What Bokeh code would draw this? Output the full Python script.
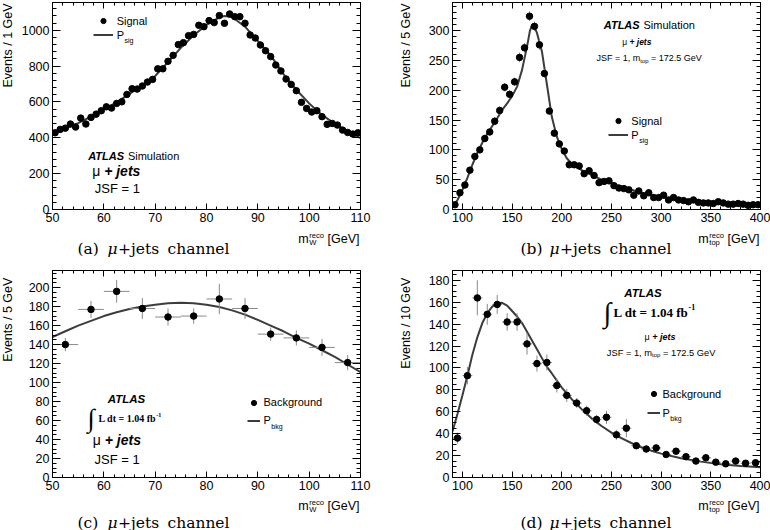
import math
from bokeh.plotting import figure
from bokeh.models import (Range1d, LinearAxis, SingleIntervalTicker, Label,
                          Legend, LegendItem)
from bokeh.core.properties import value
from bokeh.layouts import column, row
from bokeh.embed import file_html
from bokeh.resources import INLINE

SANS = "Liberation Sans"
SERIF = "Liberation Serif"
CAP = "DejaVu Serif"
PT_COLOR = "black"
ERR_COLOR = "#8a8a8a"
CURVE_COLOR = "#3c3c3c"

# ---------------- (a) signal, m_W^reco, 1 GeV bins ----------------
a_edges = (50, 110, 1)
a_counts = [428, 447, 454, 477, 460, 510, 477, 514, 532, 551,
            573, 566, 592, 601, 642, 674, 672, 689, 711, 726,
            785, 785, 827, 860, 920, 931, 970, 977, 1028, 1020,
            1054, 1043, 1082, 1039, 1091, 1076, 1076, 1039, 974, 957,
            918, 886, 853, 806, 773, 728, 698, 663, 598, 564,
            544, 551, 518, 475, 480, 471, 443, 430, 421, 428]
a_curve_x = [50, 52.5, 55, 57.5, 60, 62.5, 65, 67.5, 70, 72.5, 75, 77.5, 80,
             82.5, 83.5, 85, 87.5, 90, 92.5, 95, 97.5, 100, 102.5, 105, 107.5, 110]
a_curve_y = [425, 452, 482, 518, 558, 598, 645, 692, 745, 822, 902, 972, 1030,
             1072, 1080, 1074, 1020, 940, 860, 755, 668, 592, 528, 478, 437, 398]

# ---------------- (b) signal, m_top^reco, 5 GeV bins ----------------
b_edges = (90, 400, 5)
b_counts = [8, 28, 41, 66, 89, 100, 119, 130, 148, 166,
            205, 193, 214, 255, 271, 324, 307, 276, 228, 165,
            128, 110, 98, 75, 75, 73, 60, 65, 57, 45,
            47, 48, 40, 36, 35, 33, 24, 31, 23, 28,
            20, 20, 24, 16, 20, 16, 15, 13, 16, 12,
            11, 11, 10, 13, 11, 9, 9, 10, 9, 7,
            8, 8]
b_errors = [2, 3, 4, 5, 5, 6, 6, 6, 7, 7,
            7, 7, 7, 8, 8, 8, 8, 8, 7, 6,
            6, 5, 5, 4, 4, 4, 4, 4, 4, 3,
            3, 3, 3, 3, 3, 3, 3, 3, 3, 3,
            2, 2, 2, 2, 2, 2, 2, 2, 2, 2,
            2, 2, 2, 2, 2, 2, 2, 2, 2, 2,
            2, 2]
b_curve_x = [90, 95, 100, 105, 110, 115, 120, 125, 130, 135, 140, 145, 150, 155,
             160, 165, 168, 170, 172, 175, 180, 185, 190, 195, 200, 205, 210, 220,
             230, 240, 250, 260, 270, 280, 290, 300, 320, 340, 360, 380, 400]
b_curve_y = [3, 16, 33, 53, 75, 95, 112, 127, 140, 153, 167, 178, 190, 206,
             234, 273, 300, 309, 308, 296, 265, 210, 155, 122, 101, 86, 77, 66,
             58, 50, 44, 38, 33, 28, 24, 21, 16, 12.5, 10, 8, 6.5]

# ---------------- (c) background, m_W^reco, 5 GeV bins ----------------
c_edges = (50, 110, 5)
c_counts = [140, 177, 196, 178, 169, 170, 188, 178, 151, 147, 137, 121]
c_errors = [7, 9, 12, 11, 9, 8, 16, 11, 7, 8, 9, 8]
c_curve_x = [50, 52.5, 55, 57.5, 60, 62.5, 65, 67.5, 70, 72.5, 75, 77.5, 80,
             82.5, 85, 87.5, 90, 92.5, 95, 97.5, 100, 102.5, 105, 107.5, 110]
c_curve_y = [148, 154, 160, 165, 170, 174, 177.5, 180, 182, 183.5, 184, 183.5, 182,
             179.5, 176, 171.5, 166, 160, 154, 147, 141, 134, 127, 119, 111]

# ---------------- (d) background, m_top^reco, 10 GeV bins ----------------
d_edges = (90, 400, 10)
d_counts = [36, 93, 164, 149, 158, 142, 142, 122, 104, 105,
            84, 75, 68, 61, 53, 55, 39, 45, 29, 26,
            27, 21, 24, 19, 15, 18, 14, 12.5, 15, 13,
            13.5]
d_errors = [5, 8, 16, 9.5, 8.6, 8, 8, 9.8, 7.3, 7.3,
            6.4, 6, 4.5, 4.5, 4, 6, 4.5, 8.3, 3, 3,
            3, 2.5, 3, 2.5, 2, 2.5, 2, 2, 2, 2,
            2]
d_curve_x = [90, 95, 100, 105, 110, 115, 120, 125, 130, 135, 140, 145, 150, 155,
             160, 165, 170, 175, 180, 185, 190, 200, 210, 220, 230, 240, 250, 260,
             270, 280, 290, 300, 320, 340, 360, 380, 400]
d_curve_y = [42, 58, 75, 93, 112, 128, 141, 150, 156, 159, 159.5, 157, 152, 147,
             141, 133, 125, 117, 109, 101, 95, 82, 71.5, 62.4, 54, 47, 41, 36,
             31.5, 27.6, 24.5, 21.8, 17.5, 14.5, 12, 10.6, 9.4]

# ---------------- text metrics (Arial / Times metric compatible) ----------------
AR = {' ': 278, '[': 278, ']': 278, 'G': 778, 'e': 556, 'V': 667, 'm': 833, 'W': 944,
      'r': 333, 'c': 500, 'o': 556, 't': 278, 'p': 556, 's': 500, 'i': 222, 'g': 556,
      'k': 500, 'b': 556, 'P': 667, '=': 584, '1': 556, '2': 556, '7': 556, '5': 556,
      '.': 278, ',': 278, 'J': 500, 'S': 667, 'F': 611, 'n': 556, 'a': 556, 'l': 222,
      'u': 556, 'μ': 576, '+': 584}
ARB = {'A': 722, 'T': 611, 'L': 611, 'S': 667, ' ': 278}
TB = {'L': 667, ' ': 250, 'd': 556, 't': 333, '=': 570, '1': 500, '.': 250, '0': 500,
      '4': 500, 'f': 333, 'b': 556, '-': 333}


def tw(s, size, table=AR):
    return sum(table.get(ch, 556) for ch in s) * size / 1000.0


def centers(edges, n):
    lo, hi, w = edges
    return [lo + w * (i + 0.5) for i in range(n)]


# ---------------- layout geometry (page pixels) ----------------
COLS = [dict(page=0, strip=14, bl=38, fw=308, br=25, left=52, ycx=7),
        dict(page=385, strip=40, bl=27, fw=308, br=10, left=452, ycx=405)]
ROWS = [dict(page=0, bt=2, fh=207, bb=20, cap=36, rtop=2, ytop=1, xt=238, ct=248),
        dict(page=265, bt=5, fh=207, bb=20, cap=33, rtop=270, ytop=273, xt=505, ct=522)]
RH = 207.0
CAP_SIZE = 15.5


def style_axis(ax, tin, mtin, labels):
    ax.axis_line_color = "black"
    ax.major_tick_line_color = "black"
    ax.minor_tick_line_color = "black"
    ax.major_tick_in = tin
    ax.major_tick_out = 0
    ax.minor_tick_in = mtin
    ax.minor_tick_out = 0
    ax.axis_label = None
    if labels:
        ax.major_label_text_font = SANS
        ax.major_label_text_font_size = "12.5px"
        ax.major_label_text_color = "black"
        ax.major_label_standoff = 3
    else:
        ax.major_label_text_color = None
        ax.major_label_text_font_size = "1px"
        ax.major_label_standoff = 0


def text_fig(w, h):
    f = figure(width=w, height=h, x_range=Range1d(0, w), y_range=Range1d(0, h),
               output_backend="svg", toolbar_location=None, min_border=0,
               x_axis_location=None, y_axis_location=None)
    f.grid.visible = False
    f.outline_line_color = None
    f.background_fill_color = "white"
    f.border_fill_color = "white"
    return f


def cput(f, x, y, s, size, font=SANS, style="normal", align="left", angle=0.0):
    f.add_layout(Label(x=x, y=y, text=s, text_font=font, text_font_size=f"{size}px",
                       text_font_style=style, text_align=align, text_baseline="middle",
                       angle=angle, text_color="black"))


def make(ci, ri, xr, yr, xint, xminor, yint, yminor):
    c, r = COLS[ci], ROWS[ri]
    p = figure(frame_width=c["fw"], frame_height=r["fh"],
               x_range=Range1d(*xr), y_range=Range1d(*yr),
               output_backend="svg", toolbar_location=None,
               min_border_left=c["bl"], min_border_right=c["br"],
               min_border_top=r["bt"], min_border_bottom=r["bb"])
    p.grid.visible = False
    p.outline_line_color = "black"
    p.background_fill_color = "white"
    p.border_fill_color = "white"
    xt = SingleIntervalTicker(interval=xint, num_minor_ticks=xminor)
    yt = SingleIntervalTicker(interval=yint, num_minor_ticks=yminor)
    p.xaxis[0].ticker = xt
    p.yaxis[0].ticker = yt
    style_axis(p.xaxis[0], 6, 3, True)
    style_axis(p.yaxis[0], 8, 4, True)
    top = LinearAxis(ticker=xt)
    style_axis(top, 6, 3, False)
    p.add_layout(top, "above")
    right = LinearAxis(ticker=yt)
    style_axis(right, 8, 4, False)
    p.add_layout(right, "right")
    geo = dict(ci=ci, ri=ri, left=c["left"], rtop=r["rtop"], fh=r["fh"], fw=c["fw"])
    return p, geo


def conv(g, rx, ry):
    return rx - g["left"], (ry - g["rtop"]) * g["fh"] / RH


def put(p, dx, dy, s, size, font=SANS, style="normal", align="left"):
    p.add_layout(Label(x=p.x_range.start, y=p.y_range.end, x_offset=dx, y_offset=-dy,
                       text=s, text_font=font, text_font_size=f"{size}px",
                       text_font_style=style, text_align=align, text_baseline="middle",
                       text_color="black"))


def atlas(p, g, rx, ry, size, sim=True):
    dx, dy = conv(g, rx, ry)
    put(p, dx, dy, "ATLAS", size, style="bold italic")
    if sim:
        put(p, dx + tw("ATLAS ", size, ARB), dy, "Simulation", size)


def mujets(p, g, rx, ry, size):
    dx, dy = conv(g, rx, ry)
    put(p, dx, dy, "μ", size)
    put(p, dx + tw("μ ", size), dy, "+ jets", size, style="bold italic")


def jsf(p, g, rx, ry, size):
    dx, dy = conv(g, rx, ry)
    put(p, dx, dy, "JSF = 1, m", size)
    x1 = dx + tw("JSF = 1, m", size)
    ss = round(size * 0.65, 1)
    put(p, x1, dy + size * 0.3, "top", ss)
    x2 = x1 + tw("top", ss) + tw(" ", size)
    put(p, x2, dy, "= 172.5 GeV", size)


def lumi(p, g, rx_int, ry, int_size, rx_txt, size):
    dx, dy = conv(g, rx_int, ry)
    put(p, dx, dy, "∫", int_size, font=SERIF)
    dx2, _ = conv(g, rx_txt, ry)
    put(p, dx2, dy, "L dt = 1.04 fb", size, font=SERIF, style="bold")
    ss = round(size * 0.62, 1)
    put(p, dx2 + tw("L dt = 1.04 fb", size, TB), dy - size * 0.38, "-1", ss,
        font=SERIF, style="bold")


def legend(p, g, sc, ln, name, sub, mrx, mry, row_sp, gw, lrx):
    dxm, dym = conv(g, mrx, mry)
    row_h = 13
    spacing = int(round(row_sp * g["fh"] / RH)) - row_h
    gl = dxm - gw / 2.0
    lx = lrx - g["left"]
    standoff = int(round(lx - (gl + gw)))
    top = dym - row_h / 2.0
    total = 2 * row_h + spacing
    leg = Legend(items=[LegendItem(label=value(name), renderers=[sc]),
                        LegendItem(label=value("P"), renderers=[ln])],
                 location=(gl, g["fh"] - top - total), padding=0, margin=0,
                 spacing=spacing, glyph_width=gw, glyph_height=row_h,
                 label_height=row_h, label_width=10, label_standoff=standoff,
                 label_text_font=SANS, label_text_font_size="11px",
                 label_text_color="black", background_fill_alpha=0,
                 border_line_alpha=0)
    p.add_layout(leg)
    xsub = gl + gw + standoff + tw("P", 11)
    put(p, xsub, dym + row_h + spacing + 5.5, sub, 7)


def draw(p, edges, counts, errors, cx, cy, hbars):
    xs = centers(edges, len(counts))
    ln = p.line(cx, cy, line_color=CURVE_COLOR, line_width=2)
    if errors is not None:
        p.segment(x0=xs, y0=[v - e for v, e in zip(counts, errors)], x1=xs,
                  y1=[v + e for v, e in zip(counts, errors)], line_color=ERR_COLOR, line_width=1)
        if hbars:
            hw = edges[2] / 2.0
            p.segment(x0=[x - hw for x in xs], y0=counts, x1=[x + hw for x in xs], y1=counts,
                      line_color=ERR_COLOR, line_width=1)
    sc = p.scatter(xs, counts, size=6.5, marker="circle", color=PT_COLOR)
    return sc, ln


def block(p, g, ytext, sub, letter, cap_xs):
    c, r = COLS[g["ci"]], ROWS[g["ri"]]
    main_h = r["bt"] + r["fh"] + r["bb"]
    strip = text_fig(c["strip"], main_h)
    cput(strip, c["ycx"] - c["page"], main_h - (r["ytop"] - r["page"]),
         ytext, 12.5, align="right", angle=math.pi / 2)
    capw = c["strip"] + c["bl"] + c["fw"] + c["br"]
    cap = text_fig(capw, r["cap"])
    cap_top = r["page"] + main_h
    # x-axis title, right aligned at the frame's right edge
    right = c["left"] + c["fw"] - 1 - c["page"]
    y = r["cap"] - (r["xt"] - cap_top)
    fs = 12.5
    ss = 7.6
    cput(cap, right, y, "[GeV]", fs, align="right")
    xs = right - tw("[GeV]", fs) - tw(" ", fs) - tw("reco", ss)
    cput(cap, xs, y + 3.5, "reco", ss)
    cput(cap, xs, y - 3.5, sub, ss)
    cput(cap, xs - 0.5, y, "m", fs, align="right")
    # sub-figure caption
    yc = r["cap"] - (r["ct"] - cap_top)
    cput(cap, cap_xs[0] - c["page"], yc, f"({letter})", CAP_SIZE, font=CAP)
    cput(cap, cap_xs[1] - c["page"], yc, "μ", CAP_SIZE, font=CAP, style="italic")
    cput(cap, cap_xs[2] - c["page"], yc, "+jets", CAP_SIZE, font=CAP)
    cput(cap, cap_xs[3] - c["page"], yc, "channel", CAP_SIZE, font=CAP)
    return column(row(strip, p), cap)


# ---------------- panel (a) ----------------
pa, ga = make(0, 0, (50, 110), (0, 1155), 10, 5, 200, 5)
sa, la = draw(pa, a_edges, a_counts, None, a_curve_x, a_curve_y, False)
legend(pa, ga, sa, la, "Signal", "sig", 102.7, 20.7, 13.5, 20, 116.7)
atlas(pa, ga, 87.7, 155, 11)
mujets(pa, ga, 91.7, 170.7, 14)
put(pa, *conv(ga, 94.3, 188.3), "JSF = 1", 13)
blk_a = block(pa, ga, "Events / 1 GeV", "W", "a", [77, 107, 117.5, 167])

# ---------------- panel (b) ----------------
pb, gb = make(1, 0, (90, 400), (0, 347), 50, 5, 50, 5)
sb, lb = draw(pb, b_edges, b_counts, b_errors, b_curve_x, b_curve_y, False)
legend(pb, gb, sb, lb, "Signal", "sig", 618.3, 120.7, 14.3, 20, 631.7)
atlas(pb, gb, 603.3, 24, 11)
mujets(pb, gb, 621.7, 41.7, 8.5)
jsf(pb, gb, 596, 57.3, 9)
blk_b = block(pb, gb, "Events / 5 GeV", "top", "b", [520, 549, 559.5, 609])

# ---------------- panel (c) ----------------
pc, gc = make(0, 1, (50, 110), (0, 218), 10, 5, 20, 4)
s_c, l_c = draw(pc, c_edges, c_counts, c_errors, c_curve_x, c_curve_y, True)
legend(pc, gc, s_c, l_c, "Background", "bkg", 253, 402, 18, 13, 263)
atlas(pc, gc, 107.3, 398.3, 11.5, sim=False)
lumi(pc, gc, 87.3, 418, 26, 98, 10)
mujets(pc, gc, 92.3, 439.3, 14)
put(pc, *conv(gc, 94, 458.7), "JSF = 1", 13)
blk_c = block(pc, gc, "Events / 5 GeV", "W", "c", [77, 107, 117.5, 167])

# ---------------- panel (d) ----------------
pd_, gd = make(1, 1, (90, 400), (0, 189), 50, 5, 20, 4)
s_d, l_d = draw(pd_, d_edges, d_counts, d_errors, d_curve_x, d_curve_y, True)
legend(pd_, gd, s_d, l_d, "Background", "bkg", 653, 393.7, 19, 13, 662.3)
atlas(pd_, gd, 623.7, 292.7, 11.5, sim=False)
lumi(pd_, gd, 603, 311.5, 28, 613, 13)
mujets(pd_, gd, 644, 336.7, 9)
jsf(pd_, gd, 606.3, 352, 9.3)
blk_d = block(pd_, gd, "Events / 10 GeV", "top", "d", [520, 549, 559.5, 609])

layout = column(row(blk_a, blk_b), row(blk_c, blk_d))
open("out.html", "w").write(file_html(layout, INLINE))
